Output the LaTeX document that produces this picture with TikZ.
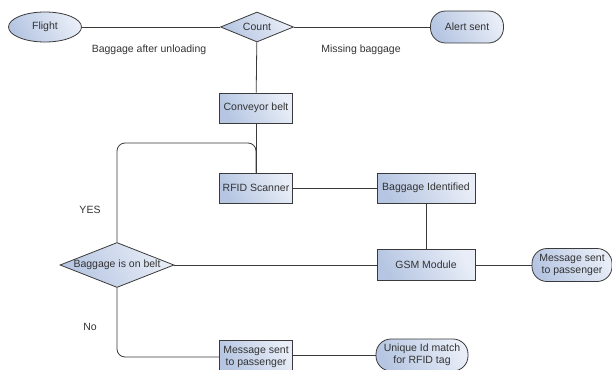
\documentclass[tikz,border=0pt]{standalone}
\usepackage{fontspec}
\setmainfont{Liberation Sans}
\usetikzlibrary{shapes.geometric}
\definecolor{fillA}{HTML}{E8EDF7}
\definecolor{fillB}{HTML}{B6C6E2}
\definecolor{edge}{HTML}{3A3A3A}
\begin{document}
\begin{tikzpicture}[x=1pt,y=-1pt,
  every node/.style={font=\fontsize{10.5}{12}\selectfont, text=black!80},
  shade/.style={top color=fillA, bottom color=fillB, shading angle=-60, draw=edge, line width=0.8pt},
  boxn/.style={shade, rectangle, minimum height=30pt, inner sep=0pt},
  pill/.style={shade, rectangle, rounded corners=15pt, minimum height=32pt, inner sep=0pt, align=center},
  ovaln/.style={shade, ellipse, minimum width=73pt, minimum height=30pt, inner sep=0pt},
  decis/.style={shade, diamond, inner sep=0pt},
  conn/.style={draw=edge, line width=0.8pt},
  lbl/.style={inner sep=0pt}]
\useasboundingbox (0,0) rectangle (612,369);
\node[ovaln] (flight) at (45,27) {Flight};
\node[decis, minimum width=73pt, minimum height=30pt] (count) at (257,27) {};
\node[lbl] at (257,27) {Count};
\node[pill, minimum width=73pt] (alert) at (467,27) {Alert sent};
\node[lbl] (t1) at (149,50) {Baggage after unloading};
\node[lbl] (t2) at (361,50) {Missing baggage};
\node[boxn, minimum width=73pt] (conv) at (256,108) {Conveyor belt};
\node[boxn, minimum width=73pt] (rfid) at (256,188) {RFID Scanner};
\node[boxn, minimum width=98pt] (ident) at (426,188) {Baggage Identified};
\node[boxn, minimum width=98pt, minimum height=31pt] (gsm) at (426,265) {GSM Module};
\node[pill, minimum width=80pt, minimum height=33pt] (msg1) at (572,265) {Message sent\\to passenger};
\node[decis, minimum width=114pt, minimum height=45pt] (belt) at (117,265) {};
\node[lbl] at (117,265) {Baggage is on belt};
\node[lbl] (yes) at (90,210) {YES};
\node[lbl] (no) at (90,327) {No};
\node[boxn, minimum width=73pt, minimum height=34pt, align=center] (msg2) at (256,357) {Message sent\\to passenger};
\node[pill, minimum width=92pt, minimum height=32pt] (uid) at (422,355) {Unique Id match\\for RFID tag};
\coordinate (loopc) at (256,143);
\draw[conn] (flight) -- (count);
\draw[conn] (count) -- (alert);
\draw[conn] (count) -- (conv);
\draw[conn] (conv) -- (rfid);
\draw[conn] (rfid) -- (ident);
\draw[conn] (ident) -- (gsm);
\draw[conn] (belt) -- (gsm);
\draw[conn] (gsm) -- (msg1);
\draw[conn, rounded corners=8pt] (belt.north) |- (loopc) -- (rfid.north);
\draw[conn, rounded corners=8pt] (belt.south) |- (msg2.west);
\draw[conn] (msg2.east |- uid) -- (uid);
\end{tikzpicture}
\end{document}
